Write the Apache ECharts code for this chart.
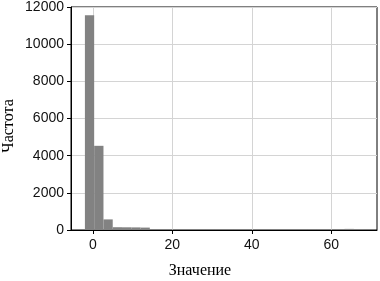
<!DOCTYPE html>
<html><head><meta charset="utf-8">
<script src="https://cdn.jsdelivr.net/npm/echarts@6/dist/echarts.min.js"></script>
<style>html,body{margin:0;padding:0;background:#fff}#c{width:380px;height:281px}</style>
</head><body><div id="c"></div>
<script>
var binEdges = [-2, 0.33, 2.67, 5, 7.33, 9.67, 12, 14.33, 16.67, 19, 21.33, 23.67, 26, 28.33, 30.67, 33, 35.33, 37.67, 40, 42.33, 44.67, 47, 49.33, 51.67, 54, 56.33, 58.67, 61, 63.33, 65.67, 68];
var counts = [11550, 4530, 570, 150, 145, 140, 130, 35, 30, 25, 25, 20, 20, 20, 18, 18, 15, 15, 15, 15, 15, 15, 15, 15, 15, 15, 20, 55, 60, 55];
var xTicks = [0, 20, 40, 60];
var yTicks = [0, 2000, 4000, 6000, 8000, 10000, 12000];
var xLabel = 'Значение';
var yLabel = 'Частота';

var bins = counts.map(function (c, i) { return [binEdges[i], binEdges[i + 1], c]; });
var chart = echarts.init(document.getElementById('c'));
var tickFont = { fontFamily: 'Liberation Sans', fontSize: 14, color: '#111' };
function plain(v) { return String(v); }
chart.setOption({
  animation: false,
  grid: { left: 71, top: 5, right: 3, bottom: 51, show: true, borderColor: '#000', borderWidth: 1, containLabel: false },
  xAxis: {
    type: 'value', min: -5.5, max: 71.5,
    axisLine: { show: true, onZero: false, lineStyle: { color: '#000', width: 1 } },
    axisTick: { show: true, length: 4, lineStyle: { color: '#000' }, customValues: xTicks },
    axisLabel: Object.assign({ margin: 8, customValues: xTicks, formatter: plain }, tickFont),
    splitLine: { show: true, lineStyle: { color: '#d4d4d4', width: 1 } }
  },
  yAxis: {
    type: 'value', min: 0, max: 12000, interval: 2000,
    axisLine: { show: true, onZero: false, lineStyle: { color: '#000', width: 1 } },
    axisTick: { show: true, length: 4, lineStyle: { color: '#000' } },
    axisLabel: Object.assign({ margin: 7, formatter: plain }, tickFont),
    splitLine: { show: true, lineStyle: { color: '#d4d4d4', width: 1 } }
  },
  series: [{
    type: 'custom',
    data: bins,
    encode: { x: [0, 1], y: 2 },
    renderItem: function (params, api) {
      var p0 = api.coord([api.value(0), api.value(2)]);
      var p1 = api.coord([api.value(1), 0]);
      return { type: 'rect', shape: { x: p0[0], y: p0[1], width: p1[0] - p0[0], height: p1[1] - p0[1] },
        style: { fill: '#828282' } };
    }
  }],
  graphic: [
    { type: 'text', x: 200, y: 271, style: { text: xLabel, align: 'center', verticalAlign: 'middle', font: '16px "Liberation Serif"', fill: '#000' } },
    { type: 'text', rotation: Math.PI / 2, x: 9, y: 126, style: { text: yLabel, align: 'center', verticalAlign: 'middle', font: '16px "Liberation Serif"', fill: '#000' } }
  ]
});
</script></body></html>
